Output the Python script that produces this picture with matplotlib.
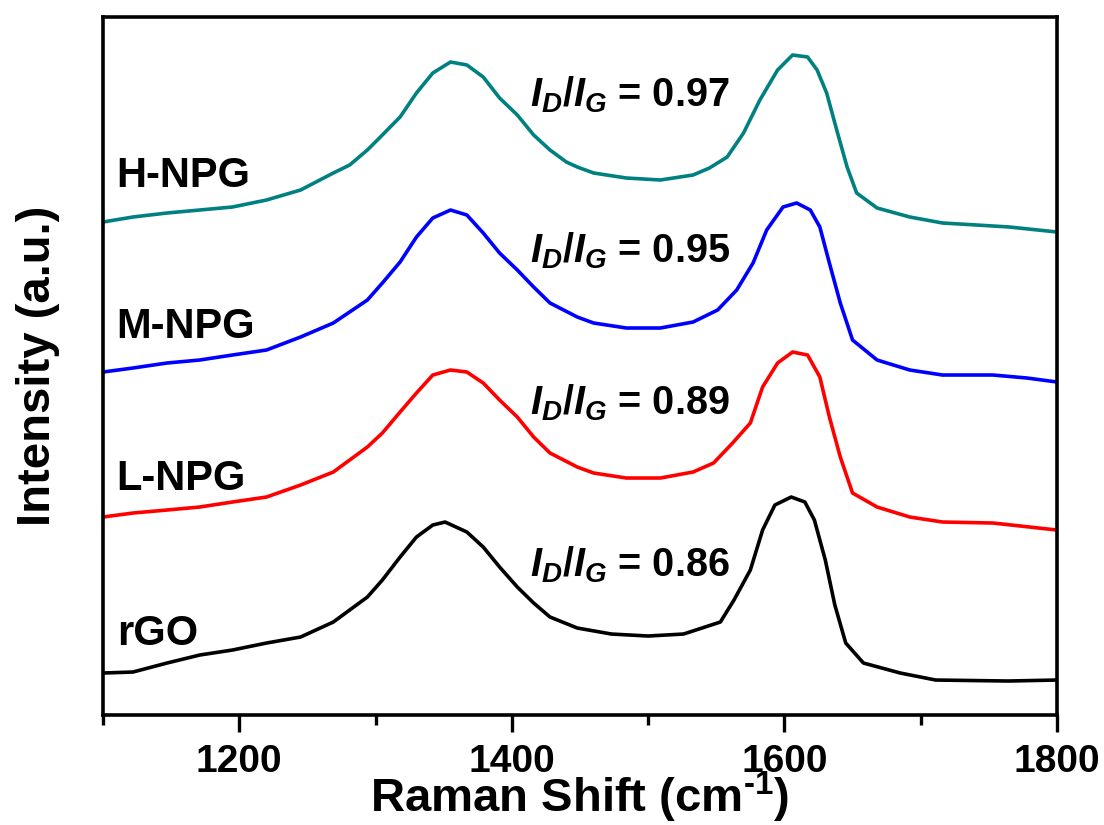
import matplotlib
matplotlib.use("Agg")
import matplotlib.pyplot as plt
from matplotlib.ticker import MultipleLocator

plt.rcParams["font.family"] = ["Liberation Sans", "DejaVu Sans"]
plt.rcParams["font.weight"] = "bold"
plt.rcParams["mathtext.fontset"] = "custom"
plt.rcParams["mathtext.rm"] = "Liberation Sans:bold"
plt.rcParams["mathtext.it"] = "Liberation Sans:bold:italic"
plt.rcParams["mathtext.bf"] = "Liberation Sans:bold"

# Raman shift (cm-1) and offset intensities (a.u.)
h_npg_x = [1100, 1122, 1147, 1171, 1195, 1220, 1245, 1269, 1281, 1294, 1305, 1318, 1330, 1342,
           1355, 1367, 1379, 1391, 1404, 1416, 1428, 1440, 1448, 1460, 1484, 1509, 1533, 1545,
           1558, 1570, 1582, 1595, 1606, 1617, 1624, 1631, 1639, 1646, 1653, 1668, 1692, 1716,
           1741, 1765, 1800]
h_npg_y = [493, 498, 502, 505, 508, 515, 525, 542, 550, 565, 580, 598, 622, 642,
           653, 650, 638, 617, 600, 580, 565, 553, 548, 542, 537, 535, 540, 547,
           558, 582, 615, 645, 660, 658, 645, 622, 582, 548, 522, 507, 498, 492,
           490, 488, 483]

m_npg_x = [1100, 1122, 1147, 1171, 1195, 1220, 1245, 1269, 1294, 1305, 1318, 1330, 1342, 1355,
           1367, 1379, 1391, 1404, 1416, 1428, 1448, 1460, 1484, 1509, 1533, 1551, 1565, 1577,
           1587, 1599, 1609, 1619, 1626, 1633, 1641, 1650, 1668, 1692, 1716, 1753, 1778, 1800]
m_npg_y = [343, 347, 352, 355, 360, 365, 378, 392, 415, 432, 453, 478, 497, 505,
           500, 482, 462, 445, 428, 412, 398, 392, 387, 387, 393, 405, 425, 452,
           485, 508, 512, 505, 488, 452, 412, 375, 355, 345, 340, 340, 337, 333]

l_npg_x = [1100, 1122, 1147, 1171, 1195, 1220, 1245, 1269, 1294, 1305, 1318, 1330, 1342, 1355,
           1367, 1379, 1391, 1404, 1416, 1428, 1448, 1460, 1484, 1509, 1533, 1548, 1562, 1575,
           1584, 1595, 1606, 1617, 1626, 1633, 1641, 1650, 1668, 1692, 1716, 1753, 1800]
l_npg_y = [198, 202, 205, 208, 213, 218, 230, 243, 268, 282, 303, 322, 340, 345,
           343, 332, 315, 298, 278, 262, 248, 242, 237, 237, 243, 252, 272, 292,
           328, 352, 363, 360, 338, 298, 258, 222, 208, 198, 193, 192, 185]

rgo_x = [1100, 1122, 1147, 1171, 1195, 1220, 1245, 1269, 1294, 1305, 1318, 1330, 1342, 1351,
         1367, 1379, 1391, 1404, 1416, 1428, 1448, 1473, 1500, 1526, 1553, 1563, 1575, 1584,
         1593, 1605, 1615, 1622, 1630, 1637, 1645, 1658, 1685, 1711, 1764, 1800]
rgo_y = [42, 43, 52, 60, 65, 72, 78, 93, 118, 135, 158, 178, 190, 193,
         183, 168, 148, 128, 112, 98, 87, 81, 79, 81, 93, 115, 145, 185,
         210, 218, 213, 195, 155, 110, 72, 52, 42, 35, 34, 35]

samples = ["H-NPG", "M-NPG", "L-NPG", "rGO"]
ratios = ["0.97", "0.95", "0.89", "0.86"]
colors = ["#008080", "#0000ff", "#ff0000", "#000000"]
name_y = [528, 377, 225, 70]
ratio_y = [609, 453, 301, 139]

fig = plt.figure(figsize=(11.04, 8.25), dpi=100)
ax = fig.add_axes([0.0933, 0.1333, 0.8641, 0.8461])

series = [(h_npg_x, h_npg_y), (m_npg_x, m_npg_y), (l_npg_x, l_npg_y), (rgo_x, rgo_y)]
for (xs, ys), c in zip(series, colors):
    ax.plot(xs, ys, color=c, lw=2.6, solid_joinstyle="round")

for name, ny, r, ry in zip(samples, name_y, ratios, ratio_y):
    ax.text(1110, ny, name, fontsize=30, fontweight="bold", va="baseline", ha="left")
    ax.text(1413, ry, r"$I_D/I_G$ = " + r, fontsize=28.5, fontweight="bold",
            va="baseline", ha="left")

ax.set_xlim(1100, 1800)
ax.set_ylim(0, 698)
ax.set_yticks([])
ax.xaxis.set_major_locator(MultipleLocator(200))
ax.xaxis.set_minor_locator(MultipleLocator(100))
ax.tick_params(axis="x", which="major", direction="out", length=12, width=2.4,
               labelsize=28, pad=9, top=False)
ax.tick_params(axis="x", which="minor", direction="out", length=7, width=2.4, top=False)
for lab in ax.get_xticklabels():
    lab.set_fontweight("bold")
for s in ax.spines.values():
    s.set_linewidth(2.6)

ax.set_xlabel(r"Raman Shift (cm$^{\text{-1}}$)", fontsize=34, fontweight="bold")
ax.xaxis.set_label_coords(0.5, -0.079)
ax.set_ylabel("Intensity (a.u.)", fontsize=34, fontweight="bold")
ax.yaxis.set_label_coords(-0.045, 0.5)

fig.savefig("out.png", dpi=100)
